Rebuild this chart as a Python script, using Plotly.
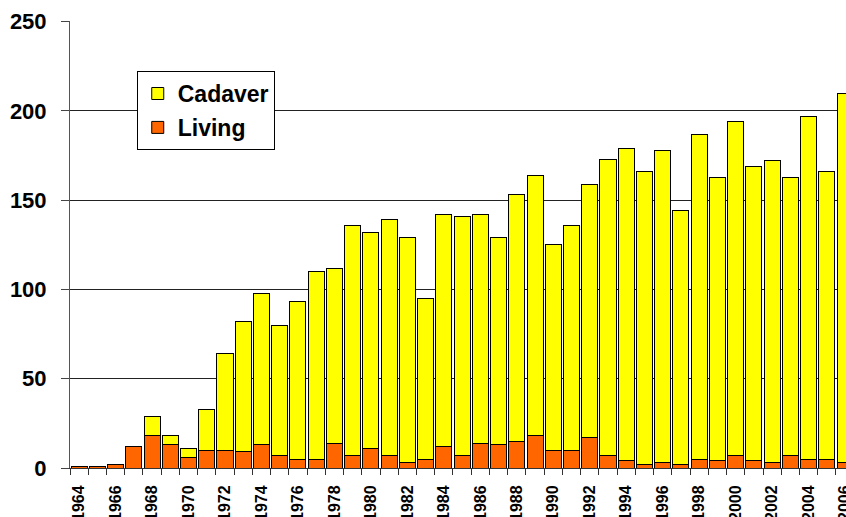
import plotly.graph_objects as go

years = list(range(1964, 2007))
total = [1, 1, 2, 12, 29, 18, 11, 33, 64, 82, 98, 80, 93, 110, 112, 136, 132, 139, 129, 95,
         142, 141, 142, 129, 153, 164, 125, 136, 159, 173, 179, 166, 178, 144, 187, 163, 194,
         169, 172, 163, 197, 166, 210]
living = [1, 1, 2, 12, 18, 13, 6, 10, 10, 9, 13, 7, 5, 5, 14, 7, 11, 7, 3, 5,
          12, 7, 14, 13, 15, 18, 10, 10, 17, 7, 4, 2, 3, 2, 5, 4, 7,
          4, 3, 7, 5, 5, 3]
cadaver = [t - l for t, l in zip(total, living)]
tick_years = list(range(1964, 2007, 2))
y_ticks = [0, 50, 100, 150, 200, 250]

FONT = "Liberation Sans, Arial, sans-serif"

fig = go.Figure()
fig.add_trace(go.Bar(x=years, y=living, name="Living", legendgroup="l", legendrank=2,
                     marker=dict(color="#FF6600", line=dict(color="#000000", width=1))))
fig.add_trace(go.Bar(x=years, y=cadaver, name="Cadaver", legendgroup="c", legendrank=1,
                     marker=dict(color="#FFFF00", line=dict(color="#000000", width=1))))

fig.update_layout(
    width=846, height=517,
    barmode="stack", bargap=0.12,
    paper_bgcolor="white", plot_bgcolor="white",
    margin=dict(l=70, r=0, t=21, b=49, pad=0),
    font=dict(family=FONT, color="black", weight="bold"),
    hovermode=False,
    legend=dict(x=0.086, y=0.888, xanchor="left", yanchor="top",
                bgcolor="white", bordercolor="black", borderwidth=1,
                traceorder="grouped", tracegroupgap=1,
                font=dict(family=FONT, size=23, color="black", weight="bold"),
                itemwidth=30),
    xaxis=dict(range=[1963.5, 2006.05], tickmode="array", tickvals=tick_years,
               ticktext=[str(y) for y in tick_years], tickangle=-90,
               ticks="", showgrid=False, showline=True, linecolor="#333", linewidth=1,
               tickfont=dict(family=FONT, size=16, color="black", weight="bold"),
               minor=dict(tick0=1963.5, dtick=1, ticks="outside", ticklen=6,
                          tickcolor="#333", showgrid=False),
               ticklabelstandoff=10, ticklabeloverflow="allow",
               automargin=False, zeroline=False),
    yaxis=dict(range=[0, 250.4], tickmode="array", tickvals=y_ticks,
               showgrid=True, gridcolor="#222", gridwidth=1,
               ticks="outside", ticklen=8, tickcolor="#444",
               showline=True, linecolor="#555", linewidth=1,
               tickfont=dict(family=FONT, size=22, color="black", weight="bold"),
               ticklabelstandoff=10, automargin=False, zeroline=False),
)

fig.write_html("out.html", config={"displayModeBar": False},
               post_script="document.body.style.margin='0';")
